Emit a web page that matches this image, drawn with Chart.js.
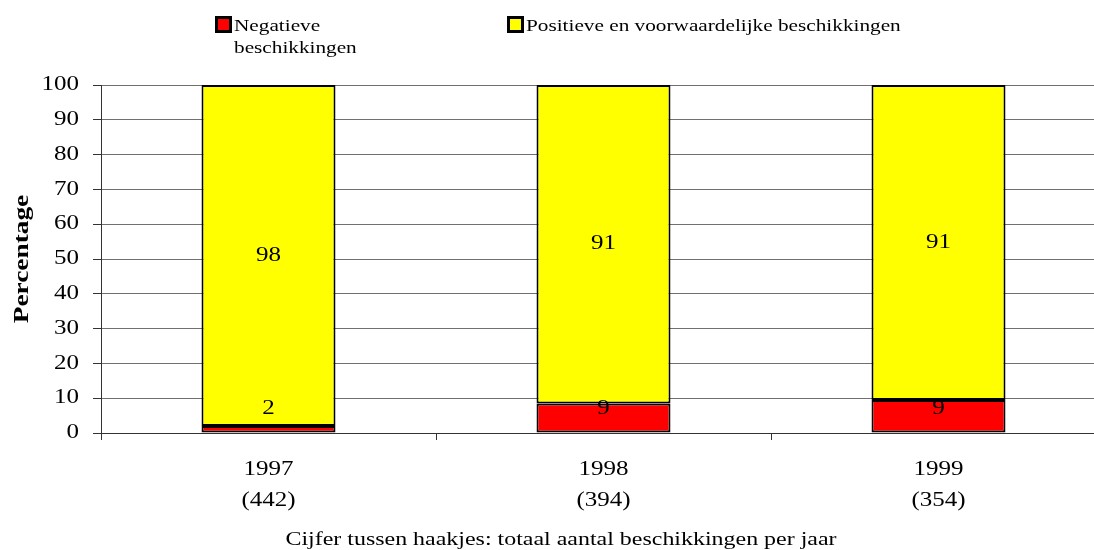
<!DOCTYPE html>
<html>
<head>
<meta charset="utf-8">
<script src="https://cdn.jsdelivr.net/npm/chart.js@4/dist/chart.umd.min.js"></script>
<style>
  html, body { margin: 0; padding: 0; background: #fff; overflow: hidden; }
  #wrap { width: 1112px; height: 550px; position: relative; }
</style>
</head>
<body>
<div id="wrap"><canvas id="chart"></canvas></div>
<script>
const years = ["1997", "1998", "1999"];
const totals = ["(442)", "(394)", "(354)"];
const seriesNames = [["Negatieve", "beschikkingen"], ["Positieve en voorwaardelijke beschikkingen"]];
const negatief = [2, 8.5, 9.5];
const positief = [98, 91.5, 90.5];
const negatiefLabels = ["2", "9", "9"];
const positiefLabels = ["98", "91", "91"];
const yTicks = [0, 10, 20, 30, 40, 50, 60, 70, 80, 90, 100];
const yTitle = "Percentage";
const footnote = "Cijfer tussen haakjes: totaal aantal beschikkingen per jaar";

const serif = "'Liberation Serif', 'Times New Roman', serif";
const STRETCH = 1.25; // the original text is drawn wide

function wideText(ctx, text, x, y, sx, align) {
  ctx.save();
  ctx.translate(x, y);
  ctx.scale(sx, 1);
  ctx.textAlign = align || "center";
  ctx.fillText(text, 0, 0);
  ctx.restore();
}

const extras = {
  id: "extras",
  afterDatasetsDraw(chart) {
    const ctx = chart.ctx;
    const yScale = chart.scales.y;
    ctx.save();
    ctx.fillStyle = "#000";
    ctx.font = "20px " + serif;
    ctx.textBaseline = "middle";
    const labelSets = [negatiefLabels, positiefLabels];
    chart.data.datasets.forEach((ds, i) => {
      chart.getDatasetMeta(i).data.forEach((bar, j) => {
        let y = (bar.y + bar.base) / 2;
        if (i === 0) y = Math.min(y, yScale.getPixelForValue(7));
        wideText(ctx, labelSets[i][j], bar.x, y, STRETCH);
      });
    });
    ctx.restore();
  },
  afterDraw(chart) {
    const ctx = chart.ctx;
    const xScale = chart.scales.x;
    const yScale = chart.scales.y;
    ctx.save();
    ctx.fillStyle = "#000";
    ctx.textBaseline = "middle";

    // y tick labels
    ctx.font = "20px " + serif;
    yTicks.forEach(v => {
      wideText(ctx, String(v), yScale.left - 14, yScale.getPixelForValue(v), STRETCH, "right");
    });

    // y title
    ctx.save();
    ctx.font = "bold 21px " + serif;
    ctx.translate(23, (yScale.top + yScale.bottom) / 2);
    ctx.rotate(-Math.PI / 2);
    wideText(ctx, yTitle, 0, 0, 1.3);
    ctx.restore();

    // x labels
    ctx.font = "20px " + serif;
    years.forEach((yr, i) => {
      const x = xScale.getPixelForValue(i);
      wideText(ctx, yr, x, xScale.top + 37, STRETCH);
      wideText(ctx, totals[i], x, xScale.top + 68, STRETCH);
    });

    // legend
    ctx.font = "17px " + serif;
    const legendPos = [215, 507];
    chart.data.datasets.forEach((ds, i) => {
      const x = legendPos[i];
      ctx.fillStyle = ds.backgroundColor;
      ctx.fillRect(x + 1.5, 17.5, 14, 14);
      ctx.strokeStyle = "#000";
      ctx.lineWidth = 3;
      ctx.strokeRect(x + 1.5, 17.5, 14, 14);
      ctx.fillStyle = "#000";
      seriesNames[i].forEach((line, k) => {
        wideText(ctx, line, x + 19, 27 + k * 22, STRETCH, "left");
      });
    });

    // footnote
    ctx.font = "19px " + serif;
    wideText(ctx, footnote, 561, 540, 1.26);
    ctx.restore();
  }
};

new Chart(document.getElementById("chart"), {
  type: "bar",
  data: {
    labels: years,
    datasets: [
      {
        label: seriesNames[0].join(" "),
        data: negatief,
        backgroundColor: "#ff0000",
        borderColor: "#000",
        borderWidth: 2,
        borderSkipped: false,
        categoryPercentage: 1,
        barPercentage: 0.4
      },
      {
        label: seriesNames[1].join(" "),
        data: positief,
        backgroundColor: "#ffff00",
        borderColor: "#000",
        borderWidth: 2,
        borderSkipped: false,
        categoryPercentage: 1,
        barPercentage: 0.4
      }
    ]
  },
  options: {
    responsive: true,
    maintainAspectRatio: false,
    animation: false,
    layout: { padding: { top: 85, left: 93, right: 6, bottom: 110 } },
    plugins: {
      legend: { display: false },
      tooltip: { enabled: false }
    },
    scales: {
      x: {
        stacked: true,
        offset: true,
        grid: {
          offset: true,
          drawOnChartArea: false,
          tickLength: 7,
          color: "#333"
        },
        border: { color: "#333", width: 1 },
        ticks: { display: false }
      },
      y: {
        stacked: true,
        min: 0,
        max: 100,
        afterBuildTicks(scale) {
          scale.ticks = yTicks.map(v => ({ value: v }));
        },
        grid: {
          color: ctx => ctx.tick && ctx.tick.value === 0 ? "#333" : "#707070",
          lineWidth: 1,
          tickLength: 8,
          tickColor: "#333"
        },
        border: { color: "#333", width: 1 },
        ticks: { display: false }
      }
    }
  },
  plugins: [extras]
});
</script>
</body>
</html>
